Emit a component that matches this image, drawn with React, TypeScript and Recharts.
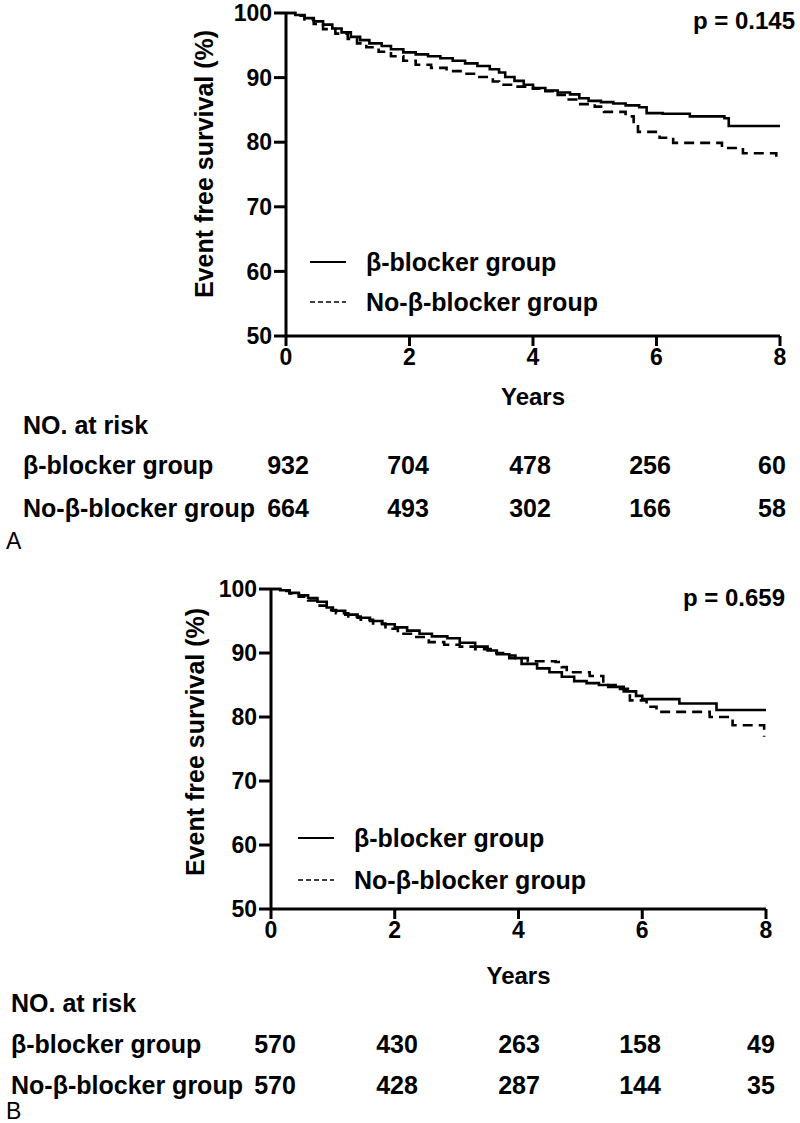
import React from 'react';
import { LineChart, Line, XAxis, YAxis, Legend, Label } from 'recharts';

const FONT = "'Liberation Sans', Arial, Helvetica, sans-serif";

const X_TICKS = [0, 2, 4, 6, 8];
const Y_TICKS = [50, 60, 70, 80, 90, 100];
const SERIES_NAMES = ['β-blocker group', 'No-β-blocker group'];
const RISK_TITLE = 'NO. at risk';
const X_LABEL = 'Years';
const Y_LABEL = 'Event free survival (%)';

// Panel A – Kaplan–Meier steps (years, % event free)
const A_BETA_T = [0, 0.15, 0.3, 0.45, 0.6, 0.75, 0.9, 1.05, 1.2, 1.35, 1.55, 1.7, 1.9, 2.1, 2.3, 2.5, 2.7, 2.9, 3.1, 3.3, 3.45, 3.55, 3.7, 3.85, 4.0, 4.2, 4.4, 4.6, 4.75, 4.9, 5.1, 5.3, 5.5, 5.72, 5.84, 6.1, 6.54, 7.1, 7.17, 8.0];
const A_BETA_S = [100, 99.7, 99.2, 98.7, 98.2, 97.6, 97.0, 96.3, 95.8, 95.3, 94.9, 94.4, 93.9, 93.6, 93.3, 93.0, 92.6, 92.2, 91.8, 91.3, 90.8, 90.1, 89.5, 88.9, 88.4, 88.0, 87.7, 87.4, 86.8, 86.4, 86.2, 86.0, 85.7, 85.4, 84.5, 84.4, 84.0, 83.7, 82.5, 82.5];
const A_NOBETA_T = [0, 0.15, 0.3, 0.45, 0.6, 0.8, 1.0, 1.15, 1.3, 1.5, 1.7, 1.9, 2.1, 2.35, 2.6, 2.85, 3.1, 3.35, 3.45, 3.7, 4.0, 4.2, 4.4, 4.55, 4.7, 5.0, 5.15, 5.5, 5.63, 5.7, 6.05, 6.27, 7.06, 7.4, 7.94];
const A_NOBETA_S = [100, 99.6, 99.0, 98.3, 97.5, 96.8, 96.0, 95.3, 94.7, 94.0, 93.3, 92.6, 92.0, 91.5, 91.0, 90.6, 90.1, 89.4, 88.9, 88.6, 88.3, 87.9, 87.3, 86.6, 85.9, 85.5, 84.7, 84.0, 82.8, 81.6, 80.7, 79.9, 79.1, 78.3, 77.0];
const A_RISK_BETA = [932, 704, 478, 256, 60];
const A_RISK_NOBETA = [664, 493, 302, 166, 58];
const A_P_TEXT = 'p = 0.145';

// Panel B
const B_BETA_T = [0, 0.15, 0.3, 0.45, 0.6, 0.75, 0.9, 1.0, 1.2, 1.4, 1.6, 1.8, 2.0, 2.2, 2.4, 2.6, 2.85, 3.05, 3.3, 3.5, 3.65, 3.85, 4.05, 4.3, 4.5, 4.7, 4.9, 5.1, 5.3, 5.45, 5.7, 5.9, 6.0, 6.6, 7.2, 8.0];
const B_BETA_S = [100, 99.8, 99.4, 99.0, 98.6, 98.0, 97.1, 96.6, 96.0, 95.5, 95.0, 94.5, 94.0, 93.5, 93.0, 92.6, 92.3, 91.6, 91.0, 90.4, 89.8, 89.2, 88.3, 87.6, 87.0, 86.3, 85.6, 85.3, 85.0, 84.7, 84.0, 83.3, 82.8, 82.1, 81.1, 81.1];
const B_NOBETA_T = [0, 0.15, 0.3, 0.45, 0.6, 0.75, 0.9, 1.05, 1.25, 1.45, 1.65, 1.85, 2.05, 2.3, 2.55, 2.8, 3.05, 3.3, 3.55, 3.75, 3.95, 4.15, 4.6, 4.7, 4.78, 5.15, 5.37, 5.64, 5.8, 6.07, 6.23, 7.09, 7.46, 7.97];
const B_NOBETA_S = [100, 99.7, 99.3, 98.8, 98.2, 97.4, 96.7, 96.2, 95.7, 95.2, 94.6, 93.8, 93.0, 92.5, 91.7, 91.3, 91.0, 90.6, 90.0, 89.6, 89.2, 88.7, 88.6, 87.8, 87.0, 86.4, 85.0, 84.4, 82.6, 81.6, 80.8, 80.0, 78.7, 76.9];
const B_RISK_BETA = [570, 430, 263, 158, 49];
const B_RISK_NOBETA = [570, 428, 287, 144, 35];
const B_P_TEXT = 'p = 0.659';

const toPoints = (t: number[], s: number[]) => t.map((x, i) => ({ t: x, s: s[i] }));

type PanelProps = {
  top: number;
  height: number;
  yAxisWidth: number;
  marginRight: number;
  plotHeight: number;
  betaT: number[];
  betaS: number[];
  noT: number[];
  noS: number[];
  yLabelX: number;
  yLabelY: number;
  yearsDy: number;
  legendLeft: number;
  legendTop: number;
  legendRowH: number;
};

const LegendBox = ({ rowH }: { rowH: number }) => (
  <div style={{ fontFamily: FONT, fontWeight: 'bold', fontSize: 25, color: '#000' }}>
    {SERIES_NAMES.map((n, i) => (
      <div key={n} style={{ display: 'flex', alignItems: 'center', height: rowH, whiteSpace: 'nowrap' }}>
        <svg width={56} height={10} style={{ display: 'block' }}>
          <line x1={0} x2={36} y1={5} y2={5} stroke="#000" strokeWidth={i === 0 ? 2 : 1.6} strokeDasharray={i === 0 ? undefined : '5 3'} />
        </svg>
        <span>{n}</span>
      </div>
    ))}
  </div>
);

const tickStyle = { fill: '#000', fontSize: 23, fontWeight: 'bold', fontFamily: FONT };

const Panel = (p: PanelProps) => {
  const marginTop = 13;
  const xAxisHeight = p.height - marginTop - p.plotHeight;
  return (
    <div style={{ position: 'absolute', left: 0, top: p.top }}>
      <LineChart width={800} height={p.height} margin={{ top: marginTop, right: p.marginRight, left: 0, bottom: 0 }}>
        <XAxis
          type="number"
          dataKey="t"
          domain={[0, 8]}
          ticks={X_TICKS}
          allowDuplicatedCategory={false}
          height={xAxisHeight}
          axisLine={{ stroke: '#000', strokeWidth: 3 }}
          tickLine={{ stroke: '#000', strokeWidth: 3 }}
          tickSize={10}
          tickMargin={3}
          tick={tickStyle}
        >
          <Label
            content={(lp: any) => {
              const vb = lp.viewBox;
              return (
                <text x={vb.x + vb.width / 2} y={vb.y + p.yearsDy} textAnchor="middle" dominantBaseline="central" fontFamily={FONT} fontWeight="bold" fontSize={24} fill="#000">
                  {X_LABEL}
                </text>
              );
            }}
          />
        </XAxis>
        <YAxis
          type="number"
          domain={[50, 100]}
          ticks={Y_TICKS}
          width={p.yAxisWidth}
          axisLine={{ stroke: '#000', strokeWidth: 3 }}
          tickLine={{ stroke: '#000', strokeWidth: 3 }}
          tickSize={12}
          tickMargin={2}
          tick={tickStyle}
        >
          <Label
            content={() => (
              <text x={p.yLabelX} y={p.yLabelY} transform={`rotate(-90 ${p.yLabelX} ${p.yLabelY})`} textAnchor="middle" dominantBaseline="central" fontFamily={FONT} fontWeight="bold" fontSize={25} fill="#000">
                {Y_LABEL}
              </text>
            )}
          />
        </YAxis>
        <Legend
          layout="vertical"
          align="center"
          verticalAlign="middle"
          wrapperStyle={{ left: p.legendLeft, top: p.legendTop, width: 'auto' }}
          content={() => <LegendBox rowH={p.legendRowH} />}
        />
        <Line
          name={SERIES_NAMES[0]}
          data={toPoints(p.betaT, p.betaS)}
          dataKey="s"
          type="stepAfter"
          stroke="#000"
          strokeWidth={2.6}
          dot={false}
          activeDot={false}
          isAnimationActive={false}
        />
        <Line
          name={SERIES_NAMES[1]}
          data={toPoints(p.noT, p.noS)}
          dataKey="s"
          type="stepAfter"
          stroke="#000"
          strokeWidth={2.6}
          strokeDasharray="10 6"
          dot={false}
          activeDot={false}
          isAnimationActive={false}
        />
      </LineChart>
    </div>
  );
};

const txt: React.CSSProperties = {
  position: 'absolute',
  fontFamily: FONT,
  fontWeight: 'bold',
  fontSize: 25,
  lineHeight: '25px',
  color: '#000',
  whiteSpace: 'nowrap',
};

const RiskTable = ({ top, left, cols, rowsY, beta, nob, letter, letterY }: any) => (
  <>
    <div style={{ ...txt, left, top: top - 12.5 }}>{RISK_TITLE}</div>
    {[beta, nob].map((row: number[], r: number) => (
      <React.Fragment key={r}>
        <div style={{ ...txt, left, top: rowsY[r] - 12.5 }}>{SERIES_NAMES[r]}</div>
        {row.map((v, i) => (
          <div key={i} style={{ ...txt, left: cols[i], top: rowsY[r] - 12.5, transform: 'translateX(-50%)' }}>{v}</div>
        ))}
      </React.Fragment>
    ))}
    <div style={{ ...txt, fontWeight: 'normal', fontSize: 23, lineHeight: '21px', left: 6, top: letterY - 10.5 }}>{letter}</div>
  </>
);

export default function App() {
  return (
    <div style={{ position: 'absolute', left: 0, top: 0, width: 800, height: 1123, background: '#fff', overflow: 'hidden' }}>
      <Panel
        top={0}
        height={420}
        yAxisWidth={286}
        marginRight={20}
        plotHeight={323}
        betaT={A_BETA_T}
        betaS={A_BETA_S}
        noT={A_NOBETA_T}
        noS={A_NOBETA_S}
        yLabelX={204}
        yLabelY={164}
        yearsDy={60}
        legendLeft={310}
        legendTop={242}
        legendRowH={40}
      />
      <div style={{ ...txt, fontSize: 24, right: 800 - 795, top: 20 - 12 }}>{A_P_TEXT}</div>
      <RiskTable top={425} left={23} cols={[288, 408, 530, 650, 772]} rowsY={[465, 508]} beta={A_RISK_BETA} nob={A_RISK_NOBETA} letter="A" letterY={541} />

      <Panel
        top={576}
        height={420}
        yAxisWidth={271}
        marginRight={34}
        plotHeight={320}
        betaT={B_BETA_T}
        betaS={B_BETA_S}
        noT={B_NOBETA_T}
        noS={B_NOBETA_S}
        yLabelX={195}
        yLabelY={742 - 576}
        yearsDy={66}
        legendLeft={298}
        legendTop={817 - 576}
        legendRowH={42}
      />
      <div style={{ ...txt, fontSize: 24, right: 800 - 785, top: 597 - 12 }}>{B_P_TEXT}</div>
      <RiskTable top={1003} left={11} cols={[275, 397, 519, 640, 761]} rowsY={[1044, 1085]} beta={B_RISK_BETA} nob={B_RISK_NOBETA} letter="B" letterY={1111} />
    </div>
  );
}
